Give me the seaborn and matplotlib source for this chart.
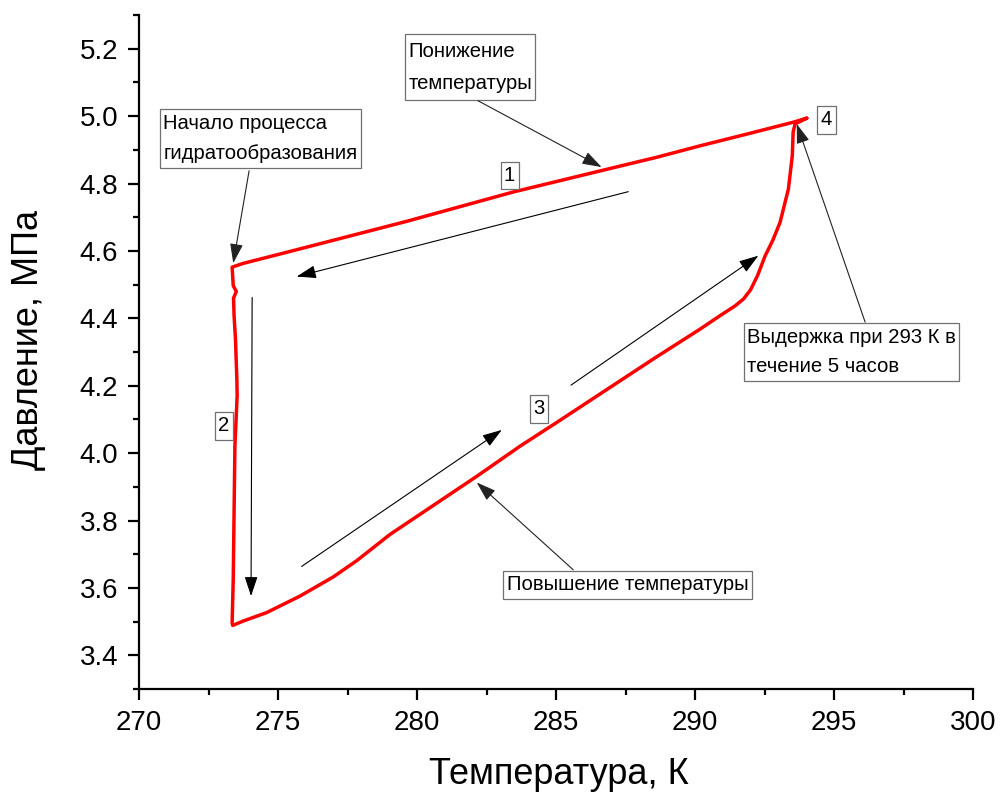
import numpy as np
import pandas as pd
import matplotlib
matplotlib.use("Agg")
import matplotlib.pyplot as plt
from matplotlib.path import Path
import seaborn as sns

# ---- data ----
# 1: cooling (from point 4 down to the start of hydrate formation)
T_cool = [294.02, 293.53, 291.97, 290.18, 288.62, 287.06, 283.46, 279.63, 276.39, 275.07, 273.74]
P_cool = [4.994, 4.982, 4.949, 4.912, 4.878, 4.847, 4.775, 4.688, 4.619, 4.591, 4.563]
# 2: hydrate formation (isothermal pressure drop)
T_form = [273.35, 273.39, 273.50, 273.40, 273.42, 273.47, 273.52, 273.53, 273.45, 273.42, 273.39, 273.35]
P_form = [4.552, 4.497, 4.480, 4.460, 4.408, 4.339, 4.220, 4.170, 4.022, 3.825, 3.626, 3.497]
# 3: heating (decomposition)
T_heat = [273.37, 273.75, 274.59, 275.79, 276.99, 277.83, 279.03, 282.16, 283.71, 285.04, 288.49,
          290.18, 290.90, 291.44, 291.75, 292.00, 292.25, 292.52, 292.80, 293.06, 293.36, 293.50,
          293.53, 293.60]
P_heat = [3.489, 3.502, 3.527, 3.576, 3.633, 3.681, 3.759, 3.932, 4.021, 4.092, 4.279,
          4.368, 4.408, 4.437, 4.458, 4.485, 4.527, 4.585, 4.632, 4.685, 4.784, 4.883,
          4.953, 4.977]
# 4: hold at 293 K
T_hold = [294.02]
P_hold = [4.994]

x_ticks = [270, 275, 280, 285, 290, 295, 300]
y_ticks = [3.4, 3.6, 3.8, 4.0, 4.2, 4.4, 4.6, 4.8, 5.0, 5.2]

T_all = T_cool + T_form + T_heat + T_hold
P_all = P_cool + P_form + P_heat + P_hold
df = pd.DataFrame({"T": T_all, "P": P_all})

sns.set_theme(style="ticks")
plt.rcParams["font.family"] = ["Liberation Sans", "DejaVu Sans"]
plt.rcParams["text.color"] = "black"
plt.rcParams["axes.labelcolor"] = "black"
plt.rcParams["xtick.color"] = "black"
plt.rcParams["ytick.color"] = "black"

fig = plt.figure(figsize=(10, 7.93), dpi=100)
ax = fig.add_axes([0.139, 0.131, 0.834, 0.85])

sns.lineplot(data=df, x="T", y="P", sort=False, estimator=None, color="#ff0000",
             linewidth=2.5, ax=ax)

ax.set_xlim(270, 300)
ax.set_ylim(3.3, 5.3)
ax.set_xticks(x_ticks)
ax.set_yticks(y_ticks)
ax.set_xticklabels([str(v) for v in x_ticks])
ax.set_yticklabels([f"{v:.1f}" for v in y_ticks])
ax.set_xticks(np.arange(272.5, 300, 5), minor=True)
ax.set_yticks(np.arange(3.3, 5.31, 0.2), minor=True)

for s in ["top", "right"]:
    ax.spines[s].set_visible(False)
for s in ["left", "bottom"]:
    ax.spines[s].set_linewidth(1.6)
    ax.spines[s].set_color("black")

ax.tick_params(axis="both", which="major", direction="out", length=8, width=1.6,
               labelsize=20, colors="black", pad=7)
ax.tick_params(axis="both", which="minor", direction="out", length=4.5, width=1.6, colors="black")

ax.set_xlabel("Температура, К", fontsize=26, color="black")
ax.set_ylabel("Давление, МПа", fontsize=26, color="black")
ax.xaxis.set_label_coords(0.503, -0.101)
ax.yaxis.set_label_coords(-0.111, 0.518)


def box_style(px, py):
    def f(x0, y0, width, height, mutation_size):
        dx = px * mutation_size
        dy = py * mutation_size
        xa, ya = x0 - dx, y0 - dy
        xb, yb = x0 + width + dx, y0 + height + dy
        return Path([(xa, ya), (xb, ya), (xb, yb), (xa, yb), (xa, ya)], closed=True)
    return f


def box(px=0.17, py=0.22):
    return dict(boxstyle=box_style(px, py), fc="white", ec="#707070", lw=0.9)


arr = dict(arrowstyle="-|>,head_length=0.6,head_width=0.2", color="black", lw=0.8,
           shrinkA=0, shrinkB=0, mutation_scale=20)
arr_thin = dict(arrowstyle="-|>,head_length=0.6,head_width=0.2", color="#222222", lw=0.8,
                shrinkA=0, shrinkB=0, mutation_scale=20)

FS = 14.6
# labelled boxes
ax.text(281.91, 5.145, "Понижение\nтемпературы", ha="center", va="center", fontsize=FS,
        linespacing=1.88, multialignment="left", bbox=box(0.17, 0.36))
ax.text(274.36, 4.934, "Начало процесса\nгидратообразования", ha="center", va="center",
        fontsize=FS, linespacing=1.7, multialignment="left", bbox=box(0.17, 0.25))
ax.text(295.63, 4.300, "Выдержка при 293 К в\nтечение 5 часов", ha="center", va="center",
        fontsize=FS, linespacing=1.7, multialignment="left", bbox=box(0.17, 0.25))
ax.text(287.57, 3.609, "Повышение температуры", ha="center", va="center", fontsize=FS,
        bbox=box(0.17, 0.22))

for s, x, y in [("1", 283.33, 4.824), ("2", 273.06, 4.082), ("3", 284.40, 4.132), ("4", 294.73, 4.990)]:
    ax.text(x, y, s, ha="center", va="center", fontsize=FS, bbox=box(0.17, 0.22))

# pointer arrows from the boxes
ax.annotate("", xy=(286.64, 4.849), xytext=(282.19, 5.046), arrowprops=arr_thin)
ax.annotate("", xy=(273.39, 4.564), xytext=(273.96, 4.838), arrowprops=arr_thin)
ax.annotate("", xy=(293.66, 4.977), xytext=(296.12, 4.389), arrowprops=arr_thin)
ax.annotate("", xy=(282.15, 3.913), xytext=(285.62, 3.654), arrowprops=arr_thin)

# direction arrows
ax.annotate("", xy=(275.67, 4.524), xytext=(287.60, 4.776), arrowprops=arr)
ax.annotate("", xy=(274.03, 3.576), xytext=(274.07, 4.462), arrowprops=arr)
ax.annotate("", xy=(283.05, 4.069), xytext=(275.85, 3.664), arrowprops=arr)
ax.annotate("", xy=(292.28, 4.586), xytext=(285.54, 4.202), arrowprops=arr)

fig.savefig("out.png", dpi=100)
